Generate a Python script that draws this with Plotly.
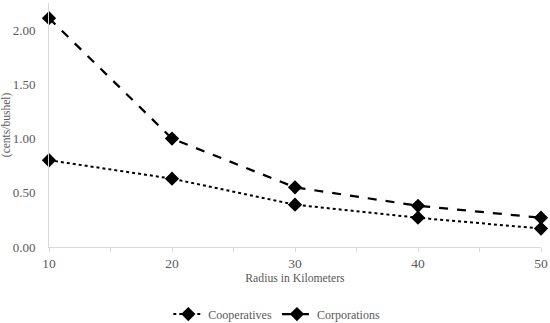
import plotly.graph_objects as go

radius = [10, 20, 30, 40, 50]
cooperatives = [0.80, 0.63, 0.39, 0.27, 0.17]
corporations = [2.11, 1.00, 0.55, 0.38, 0.27]

font = "'Times New Roman', 'Liberation Serif', 'DejaVu Serif', serif"
gray = "#595959"
axis_col = "#d9d9d9"

fig = go.Figure()
fig.add_trace(go.Scatter(
    x=radius, y=cooperatives, name="Cooperatives", mode="lines+markers",
    line=dict(color="black", width=2, dash="dot"),
    marker=dict(symbol="diamond", size=11, color="black")))
fig.add_trace(go.Scatter(
    x=radius, y=corporations, name="Corporations", mode="lines+markers",
    line=dict(color="black", width=2.25, dash="dash"),
    marker=dict(symbol="diamond", size=11, color="black")))

fig.update_layout(
    width=550, height=323,
    margin=dict(l=49, r=9, t=3, b=76, autoexpand=False),
    paper_bgcolor="white", plot_bgcolor="white",
    font=dict(family=font, color=gray, size=13),
    showlegend=True,
    legend=dict(orientation="h", x=0.463, xanchor="center", y=-0.275, yanchor="middle",
                font=dict(family=font, size=12, color=gray), itemwidth=30),
    xaxis=dict(range=[10, 50], tickvals=radius, ticks="outside", ticklen=4,
               tickcolor=axis_col, showline=True, linecolor=axis_col, linewidth=1,
               showgrid=False, zeroline=False, automargin=False, ticklabelstandoff=0,
               tickfont=dict(family=font, size=13.5, color=gray),
               minor=dict(tickvals=[15, 25, 35, 45], ticks="outside", ticklen=4, tickcolor=axis_col),
               title=dict(text="Radius in Kilometers", font=dict(family=font, size=11.7, color=gray), standoff=3)),
    yaxis=dict(range=[0, 2.25], tickvals=[0, 0.5, 1.0, 1.5, 2.0],
               ticktext=["0.00", "0.50", "1.00", "1.50", "2.00"],
               tickfont=dict(family=font, size=13, color=gray),
               showline=True, linecolor=axis_col, linewidth=1, showgrid=False,
               zeroline=False, ticks="", ticklabelstandoff=10, automargin=False),
    annotations=[dict(text="(cents/bushel)", textangle=-90, xref="paper", yref="paper",
                      x=-0.087, y=0.5, xanchor="center", yanchor="middle", showarrow=False,
                      font=dict(family=font, size=11.5, color=gray))],
)
fig.update_traces(cliponaxis=False)
fig.write_html("out.html", post_script="document.body.style.margin='0';",
               config={"displayModeBar": False})
